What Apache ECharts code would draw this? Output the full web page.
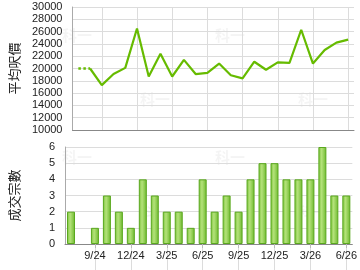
<!DOCTYPE html>
<html>
<head>
<meta charset="utf-8">
<script src="https://cdn.jsdelivr.net/npm/echarts@6/dist/echarts.min.js"></script>
<style>
  html, body { margin: 0; padding: 0; background: #fff; }
  #chart { width: 360px; height: 270px; }
</style>
</head>
<body>
<div id="chart"></div>
<script>
var months = ['7/24', '8/24', '9/24', '10/24', '11/24', '12/24', '1/25', '2/25', '3/25', '4/25', '5/25', '6/25',
  '7/25', '8/25', '9/25', '10/25', '11/25', '12/25', '1/26', '2/26', '3/26', '4/26', '5/26', '6/26'];
// 平均呎價 (8/24 沒有成交，用虛線連接)
var avgPrice = [20000, 20000, 17300, 19100, 20100, 26500, 18700, 22400, 18700, 21400, 19100, 19300,
  20800, 18900, 18400, 21100, 19800, 21000, 20900, 26300, 20800, 23000, 24200, 24700];
// 成交宗數
var deals = [2, 0, 1, 3, 2, 1, 4, 3, 2, 2, 1, 4, 2, 3, 2, 4, 5, 5, 4, 4, 4, 6, 3, 3];

var dottedPart = avgPrice.map(function (v, i) { return i <= 1 ? v : null; });
var solidPart = avgPrice.map(function (v, i) { return i >= 1 ? v : null; });
// 0 宗的月份不畫邊框
var barData = deals.map(function (v) {
  return v === 0 ? { value: 0, itemStyle: { borderWidth: 0 } } : v;
});

var every3 = function (index) { return index % 3 === 2; };
var plain = function (v) { return String(v); };
var numFont = 'Liberation Sans, Arial, sans-serif';
var cjkFont = 'Noto Sans CJK TC, sans-serif';
var green = '#66bb00';
var gridColor = '#dcdcdc';

var marks = [];
[[62, 28], [140, 92], [215, 28], [298, 92], [62, 150], [140, 205], [215, 150], [298, 205]].forEach(function (p) {
  marks.push({
    type: 'text', left: p[0], top: p[1], silent: true, z: 0,
    style: { text: '科一', fill: 'rgba(0,0,0,0.045)', font: 'bold 15px ' + cjkFont }
  });
});

// 垂直網格線用向內的刻度畫，這樣可以對齊類目中心
function gridTicks(grid, len, pos) {
  return {
    type: 'category', gridIndex: grid, data: months, boundaryGap: true, position: pos,
    axisLine: { show: pos === 'bottom', lineStyle: { color: '#888' } },
    axisTick: { show: true, inside: true, alignWithLabel: true, interval: every3, length: len, lineStyle: { color: gridColor } },
    axisLabel: { show: false },
    splitLine: { show: false }
  };
}

var bottomLabels = gridTicks(1, 4, 'bottom');
bottomLabels.axisTick = { show: true, inside: false, alignWithLabel: true, interval: every3, length: 4, lineStyle: { color: '#bbb' } };
bottomLabels.axisLabel = { interval: every3, color: '#222', fontSize: 11, fontFamily: numFont, margin: 6 };

var chart = echarts.init(document.getElementById('chart'));
chart.setOption({
  animation: false,
  graphic: marks,
  grid: [
    { left: 65, right: 6, top: 7, height: 123 },
    { left: 65, right: 6, top: 147, height: 97 }
  ],
  xAxis: [
    gridTicks(0, 123, 'bottom'),
    gridTicks(1, 97, 'top'),
    bottomLabels
  ],
  yAxis: [
    {
      type: 'value', gridIndex: 0, min: 10000, max: 30000, interval: 2000,
      name: '平均呎價', nameLocation: 'middle', nameRotate: 90, nameGap: 44,
      nameTextStyle: { fontFamily: cjkFont, fontSize: 13, color: '#222' },
      axisLine: { show: true, lineStyle: { color: '#aaa' } },
      axisTick: { show: false },
      axisLabel: { color: '#222', fontSize: 11, fontFamily: numFont, margin: 10, formatter: plain },
      splitLine: { lineStyle: { color: gridColor } }
    },
    {
      type: 'value', gridIndex: 1, min: 0, max: 6, interval: 1,
      name: '成交宗數', nameLocation: 'middle', nameRotate: 90, nameGap: 44,
      nameTextStyle: { fontFamily: cjkFont, fontSize: 13, color: '#222' },
      axisLine: { show: true, lineStyle: { color: '#aaa' } },
      axisTick: { show: false },
      axisLabel: { color: '#222', fontSize: 11, fontFamily: numFont, margin: 10, formatter: plain },
      splitLine: { lineStyle: { color: gridColor } }
    }
  ],
  series: [
    {
      type: 'line', xAxisIndex: 0, yAxisIndex: 0, data: dottedPart,
      showSymbol: false, lineStyle: { color: green, width: 2.5, type: 'dotted' }
    },
    {
      type: 'line', xAxisIndex: 0, yAxisIndex: 0, data: solidPart,
      showSymbol: false, lineStyle: { color: green, width: 2.2 }
    },
    {
      type: 'bar', xAxisIndex: 2, yAxisIndex: 1, data: barData, barWidth: 8,
      itemStyle: {
        borderColor: '#5aa81e', borderWidth: 1,
        color: new echarts.graphic.LinearGradient(0, 0, 1, 0, [
          { offset: 0, color: '#79c238' },
          { offset: 0.4, color: '#b4e27a' },
          { offset: 1, color: '#6cb82c' }
        ])
      }
    }
  ]
});
</script>
</body>
</html>
